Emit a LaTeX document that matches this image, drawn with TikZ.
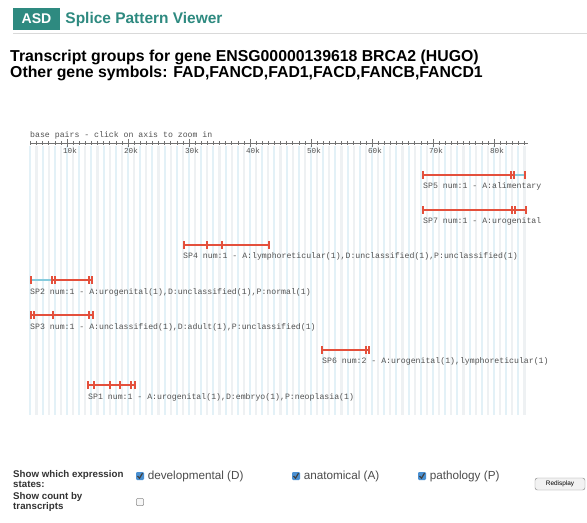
\documentclass[tikz,border=0pt]{standalone}
\usepackage{fontspec}
\setmainfont{Liberation Sans}
\setmonofont{Liberation Mono}
\usetikzlibrary{positioning}
\definecolor{asdteal}{HTML}{2E8A80}
\definecolor{exonred}{HTML}{E4503C}
\definecolor{gapcyan}{HTML}{86CBDD}
\definecolor{stripeblue}{HTML}{E3F1F7}
\definecolor{stripegray}{HTML}{EEF1F3}
\definecolor{checkblue}{HTML}{4A90D2}

\begin{document}
\begin{tikzpicture}[x=0.03cm, y=-0.03cm,
  every node/.style={inner sep=0pt},
  asdbox/.style={rectangle, fill=asdteal, text=white, minimum width=1.41cm, minimum height=0.66cm, font=\bfseries\fontsize{12}{14}\selectfont},
  header/.style={text=asdteal, font=\bfseries\fontsize{13.2}{15}\selectfont},
  title/.style={anchor=west, font=\bfseries\fontsize{13.5}{15}\selectfont},
  monolabel/.style={anchor=west, text=black!68, font=\ttfamily\fontsize{7}{8}\selectfont},
  ticklabel/.style={anchor=north, text=black!68, font=\ttfamily\fontsize{6.5}{7}\selectfont},
  bar/.style={draw=exonred, line width=1.6pt},
  gap/.style={draw=gapcyan, line width=1.1pt},
  exoncap/.style={draw=exonred, line width=1.2pt},
  formlabel/.style={anchor=north west, align=left, text=black!80, font=\bfseries\fontsize{8.3}{8.5}\selectfont},
  optionlabel/.style={text=black!70, font=\fontsize{10}{12}\selectfont},
  tickbox/.style={rectangle, rounded corners=1pt, fill=checkblue, minimum size=0.24cm},
  emptybox/.style={rectangle, rounded corners=1pt, draw=black!45, fill=black!3, minimum size=0.22cm},
  button/.style={rectangle, rounded corners=2pt, draw=black!45, fill=black!5, minimum width=1.5cm, minimum height=0.36cm, font=\fontsize{5.5}{6}\selectfont}
]
  \fill[white] (0,0) rectangle (587,522);
  \useasboundingbox (0,0) rectangle (587,522);

  % header
  \node[asdbox] (asd) at (36.5,19) {ASD};
  \node[header, right=0.15cm of asd] (viewer) {Splice Pattern Viewer};
  \draw[black!15] (13,33) -- (587,33);

  \node[title] (groups) at (10,57) {Transcript groups for gene ENSG00000139618 BRCA2 (HUGO)};
  \node[title] (symbols) at (10,73.5) {Other gene symbols: FAD,FANCD,FAD1,FACD,FANCB,FANCD1};

  % background stripes
  \foreach \j in {-6,...,75} {
    \pgfmathsetmacro{\sx}{67+6.1*\j}
    \ifodd\j
      \draw[stripegray, line width=1.8pt] (\sx,146) -- (\sx,415);
    \else
      \draw[stripeblue, line width=1.8pt] (\sx,146) -- (\sx,415);
    \fi
  }

  % axis
  \node[monolabel] (axistext) at (30,135) {base pairs - click on axis to zoom in};
  \draw[black!55, line width=0.6pt] (30,143) -- (528,143);
  \foreach \j in {-6,...,75}
    \draw[black!55, line width=0.5pt] ({67+6.1*\j},141) -- ++(0,4);
  \foreach \k in {1,...,8} {
    \draw[black!55, line width=0.5pt] ({67+61*(\k-1)},139) -- ++(0,8);
    \node[ticklabel] (tick\k) at ({70+61*(\k-1)},148) {\k0k};
  }

  % SP5
  \draw[bar] (423,175) -- (514,175);
  \draw[gap] (514,175) -- (524,175);
  \foreach \cx in {423,511,514,525} \draw[exoncap] (\cx,171) -- (\cx,179);
  \node[monolabel] (sp5) at (423,186) {SP5 num:1 - A:alimentary};

  % SP7
  \draw[bar] (423,210) -- (526,210);
  \foreach \cx in {423,512,515,526} \draw[exoncap] (\cx,206) -- (\cx,214);
  \node[monolabel] (sp7) at (423,221) {SP7 num:1 - A:urogenital};

  % SP4
  \draw[bar] (184,245) -- (269,245);
  \foreach \cx in {184,207,222,269} \draw[exoncap] (\cx,241) -- (\cx,249);
  \node[monolabel] (sp4) at (183,256) {SP4 num:1 - A:lymphoreticular(1),D:unclassified(1),P:unclassified(1)};

  % SP2
  \draw[gap] (31,280) -- (52,280);
  \draw[bar] (52,280) -- (92,280);
  \foreach \cx in {31,52,55,89,92} \draw[exoncap] (\cx,276) -- (\cx,284);
  \node[monolabel] (sp2) at (30,292) {SP2 num:1 - A:urogenital(1),D:unclassified(1),P:normal(1)};

  % SP3
  \draw[bar] (31,315) -- (93,315);
  \foreach \cx in {31,34,53,89,93} \draw[exoncap] (\cx,311) -- (\cx,319);
  \node[monolabel] (sp3) at (30,327) {SP3 num:1 - A:unclassified(1),D:adult(1),P:unclassified(1)};

  % SP6
  \draw[bar] (322,350) -- (369,350);
  \foreach \cx in {322,366,369} \draw[exoncap] (\cx,346) -- (\cx,354);
  \node[monolabel] (sp6) at (322,361) {SP6 num:2 - A:urogenital(1),lymphoreticular(1)};

  % SP1
  \draw[bar] (88,385) -- (135,385);
  \foreach \cx in {88,94,110,120,131,135} \draw[exoncap] (\cx,381) -- (\cx,389);
  \node[monolabel] (sp1) at (88,397) {SP1 num:1 - A:urogenital(1),D:embryo(1),P:neoplasia(1)};

  % form controls
  \node[formlabel] (states) at (13,470) {Show which expression\\states:};
  \node[formlabel] (count) at (13,492) {Show count by\\transcripts};

  \node[tickbox] (devbox) at (140,476) {};
  \node[optionlabel, right=0.1cm of devbox] (devtext) {developmental (D)};
  \node[tickbox] (anabox) at (296,476) {};
  \node[optionlabel, right=0.1cm of anabox] (anatext) {anatomical (A)};
  \node[tickbox] (pathbox) at (422,476) {};
  \node[optionlabel, right=0.1cm of pathbox] (pathtext) {pathology (P)};
  \foreach \b in {devbox,anabox,pathbox}
    \draw[black!75, line width=1pt] (\b.center) ++(-2.5,0) -- ++(2,2.2) -- ++(3,-5);
  \node[button] (redisplay) at (560,484) {Redisplay};

  \node[emptybox] (countbox) at (140,502) {};
\end{tikzpicture}
\end{document}
